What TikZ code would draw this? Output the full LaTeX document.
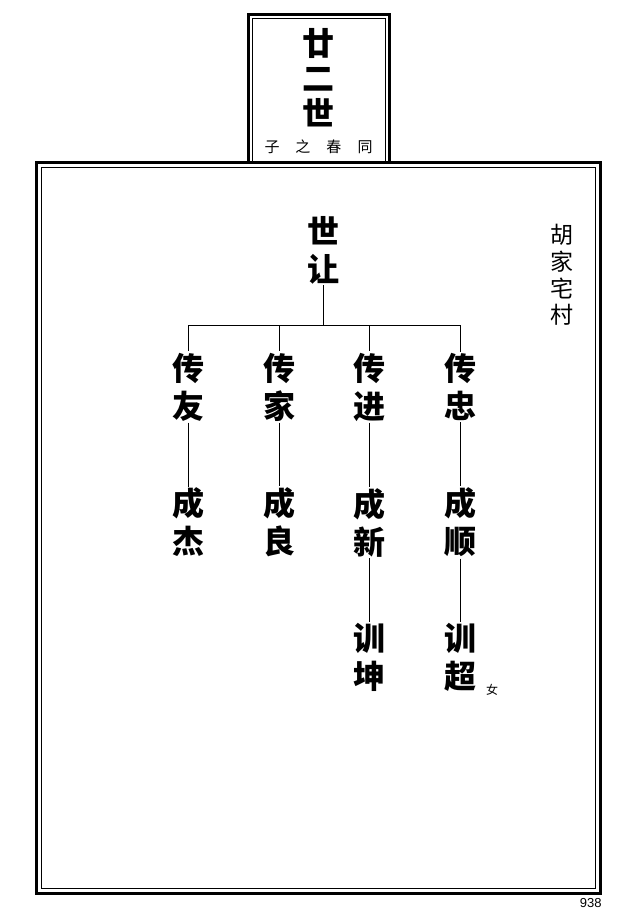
\documentclass[tikz,border=0pt]{standalone}
\usepackage{fontspec}
\newfontfamily\cjk{Noto Sans CJK SC}
\setsansfont{Liberation Sans}

\tikzstyle{person} = [font=\cjk\bfseries\fontsize{32}{38}\selectfont, align=center, inner sep=1pt]
\tikzstyle{gentext} = [font=\cjk\bfseries\fontsize{32}{35}\selectfont, align=center, inner sep=0pt]
\tikzstyle{villtext} = [font=\cjk\fontsize{23}{26.7}\selectfont, align=center, inner sep=0pt]
\tikzstyle{thickframe} = [line width=3pt]
\tikzstyle{thinframe} = [line width=1pt]

\begin{document}
\begin{tikzpicture}[x=1pt, y=-1pt, line width=1pt]
       \useasboundingbox (0,0) rectangle (638,918);

       \draw[thickframe] (36.5,162) rectangle (600.5,893);
       \draw[thinframe] (41.5,167) rectangle (595.5,888);
       \draw[thickframe] (248,162) -- (248,14.5) -- (389.5,14.5) -- (389.5,162);
       \draw[thinframe] (252,162) -- (252,18.5) -- (385,18.5) -- (385,162);

       \node[gentext] (gen) at (318,78) {廿\\二\\世};
       \node[font=\cjk\fontsize{15}{16}\selectfont, inner sep=0pt] (sub) at (318.5,147) {子\hspace{16pt}之\hspace{16pt}春\hspace{16pt}同};
       \node[villtext] (vill) at (562,275) {胡\\家\\宅\\村};

       \node[person] (root) at (323,250) {世\\让};
       \coordinate (bar) at (323,325);

       \node[person] (c1) at (188,387) {传\\友};
       \node[person] (c2) at (279,387) {传\\家};
       \node[person] (c3) at (369,387) {传\\进};
       \node[person] (c4) at (460,387) {传\\忠};

       \node[person] (s1) at (188,522.5) {成\\杰};
       \node[person] (s2) at (279,522.5) {成\\良};
       \node[person] (s3) at (369,522.5) {成\\新};
       \node[person] (s4) at (460,522.5) {成\\顺};

       \node[person] (g3) at (369,657.5) {训\\坤};
       \node[person] (g4) at (460,657.5) {训\\超};
       \node[font=\cjk\fontsize{12}{14}\selectfont, inner sep=0pt] (fem) at (492,690) {女};

       \draw (root) -- (bar);
       \draw (c1 |- bar) -- (c4 |- bar);
       \draw (c1 |- bar) -- (c1);
       \draw (c2 |- bar) -- (c2);
       \draw (c3 |- bar) -- (c3);
       \draw (c4 |- bar) -- (c4);

       \draw (c1) -- (s1);
       \draw (c2) -- (s2);
       \draw (c3) -- (s3);
       \draw (c4) -- (s4);
       \draw (s3) -- (g3);
       \draw (s4) -- (g4);

       \node[font=\sffamily\fontsize{13}{15}\selectfont, anchor=east, inner sep=0pt] (page) at (602,903) {938};
     \end{tikzpicture}
\end{document}
